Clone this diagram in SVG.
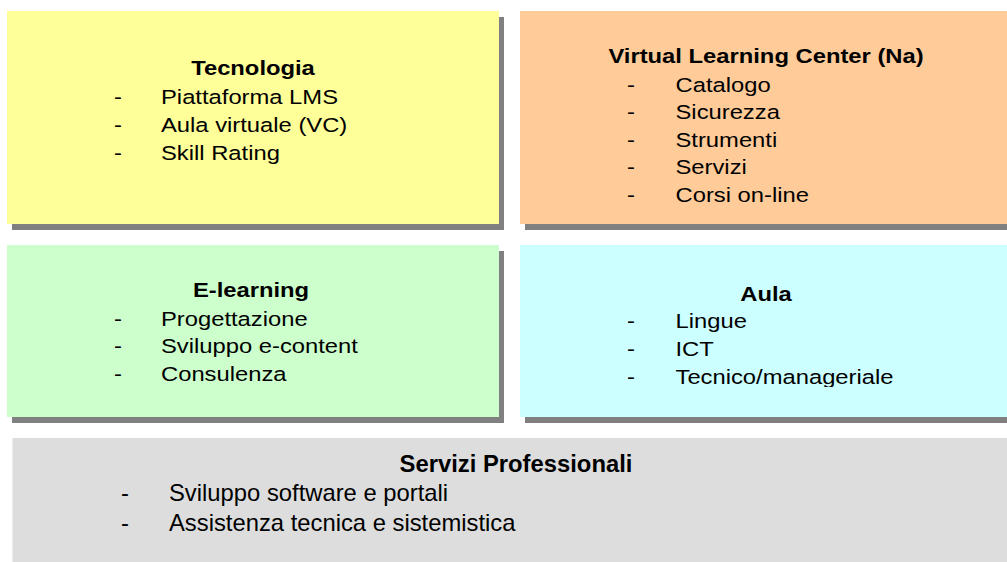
<svg xmlns="http://www.w3.org/2000/svg" width="1007" height="562" viewBox="0 0 1007 562">
<style>
.shadow{fill:#808080}
.t{font-family:"Liberation Sans",Arial,sans-serif;font-size:20.5px;fill:#000}
.tb{font-family:"Liberation Sans",Arial,sans-serif;font-size:20.5px;font-weight:bold;fill:#000;text-anchor:middle}
.s{font-family:"Liberation Sans",Arial,sans-serif;font-size:23.8px;fill:#000}
.sb{font-family:"Liberation Sans",Arial,sans-serif;font-size:23.8px;font-weight:bold;fill:#000;text-anchor:middle}
</style>
<defs>
<clipPath id="aulaClip"><rect x="520" y="245" width="487" height="142"/></clipPath>
</defs>
<rect width="1007" height="562" fill="#ffffff"/>
<g id="tecnologia">
<rect class="shadow" x="12" y="17" width="492" height="213"/>
<rect x="7" y="11" width="492" height="213" fill="#FFFF99"/>
<text class="tb" transform="translate(253,75) scale(1.16,1)">Tecnologia</text>
<text class="t" transform="translate(114,103.5) scale(1.16,1)">-</text>
<text class="t" transform="translate(161,103.5) scale(1.16,1)">Piattaforma LMS</text>
<text class="t" transform="translate(114,131.5) scale(1.16,1)">-</text>
<text class="t" transform="translate(161,131.5) scale(1.16,1)">Aula virtuale (VC)</text>
<text class="t" transform="translate(114,159.5) scale(1.16,1)">-</text>
<text class="t" transform="translate(161,159.5) scale(1.16,1)">Skill Rating</text>
</g>
<g id="vlc">
<rect class="shadow" x="525" y="17" width="490" height="213"/>
<rect x="520" y="11" width="490" height="213" fill="#FFCC99"/>
<text class="tb" transform="translate(766,63) scale(1.16,1)">Virtual Learning Center (Na)</text>
<text class="t" transform="translate(627,91.5) scale(1.16,1)">-</text>
<text class="t" transform="translate(675.5,91.5) scale(1.16,1)">Catalogo</text>
<text class="t" transform="translate(627,119) scale(1.16,1)">-</text>
<text class="t" transform="translate(675.5,119) scale(1.16,1)">Sicurezza</text>
<text class="t" transform="translate(627,146.5) scale(1.16,1)">-</text>
<text class="t" transform="translate(675.5,146.5) scale(1.16,1)">Strumenti</text>
<text class="t" transform="translate(627,174) scale(1.16,1)">-</text>
<text class="t" transform="translate(675.5,174) scale(1.16,1)">Servizi</text>
<text class="t" transform="translate(627,201.5) scale(1.16,1)">-</text>
<text class="t" transform="translate(675.5,201.5) scale(1.16,1)">Corsi on-line</text>
</g>
<g id="elearning">
<rect class="shadow" x="12" y="251" width="492" height="172"/>
<rect x="7" y="245" width="492" height="172" fill="#CCFFCC"/>
<text class="tb" transform="translate(251,297) scale(1.16,1)">E-learning</text>
<text class="t" transform="translate(114,325.5) scale(1.16,1)">-</text>
<text class="t" transform="translate(161,325.5) scale(1.16,1)">Progettazione</text>
<text class="t" transform="translate(114,353) scale(1.16,1)">-</text>
<text class="t" transform="translate(161,353) scale(1.16,1)">Sviluppo e-content</text>
<text class="t" transform="translate(114,380.5) scale(1.16,1)">-</text>
<text class="t" transform="translate(161,380.5) scale(1.16,1)">Consulenza</text>
</g>
<g id="aula">
<rect class="shadow" x="525" y="251" width="490" height="172"/>
<rect x="520" y="245" width="490" height="172" fill="#CCFFFF"/>
<g clip-path="url(#aulaClip)">
<text class="tb" transform="translate(766,300.5) scale(1.16,1)">Aula</text>
<text class="t" transform="translate(627,328) scale(1.16,1)">-</text>
<text class="t" transform="translate(675.5,328) scale(1.16,1)">Lingue</text>
<text class="t" transform="translate(627,356) scale(1.16,1)">-</text>
<text class="t" transform="translate(675.5,356) scale(1.16,1)">ICT</text>
<text class="t" transform="translate(627,384) scale(1.16,1)">-</text>
<text class="t" transform="translate(675.5,384) scale(1.16,1)">Tecnico/manageriale</text>
</g>
</g>
<g id="servizi">
<rect x="12.5" y="438" width="1000" height="130" fill="#DDDDDD"/>
<text class="sb" x="516" y="472">Servizi Professionali</text>
<text class="s" x="121" y="500.5">-</text>
<text class="s" x="169" y="500.5">Sviluppo software e portali</text>
<text class="s" x="121" y="531">-</text>
<text class="s" x="169" y="531">Assistenza tecnica e sistemistica</text>
</g>
<g id="connectors"/>
</svg>
